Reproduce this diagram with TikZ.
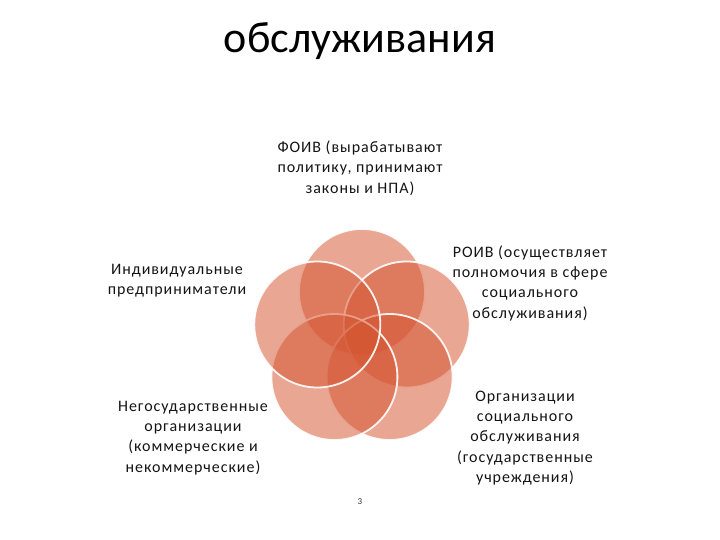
\documentclass[tikz,border=0pt]{standalone}
\usepackage{fontspec}
\setmainfont{Carlito}
\newfontfamily\lblfont[LetterSpace=6]{Carlito}
\definecolor{petalc}{RGB}{212,84,48}
\definecolor{txt}{RGB}{20,20,20}
\tikzset{
  petal/.style={circle, minimum size=126pt, inner sep=0pt, fill=petalc, fill opacity=0.52, draw=white, draw opacity=0.9, line width=1.8pt},
  lbl/.style={align=center, text=txt, inner sep=0pt, font=\lblfont\fontsize{16}{20.3}\selectfont},
}
\begin{document}
\begin{tikzpicture}[x=1pt,y=-1pt]
\useasboundingbox (0,0) rectangle (720,540);
\node[anchor=base, text=black, inner sep=0pt, font=\fontsize{44}{50}\selectfont] (title) at (360,53) {обслуживания};
% petals
\node[petal] (ctop) at (362,292) {};
\node[petal] (cright) at (406.7,324.5) {};
\node[petal] (cbr) at (389.6,377) {};
\node[petal] (cbl) at (334.4,377) {};
\node[petal] (cleft) at (317.3,324.5) {};
% labels
\node[lbl] (foiv) at (360,168) {ФОИВ (вырабатывают\\политику, принимают\\законы и НПА)};
\node[lbl] (ip) at (177,281) {Индивидуальные\\предприниматели};
\node[lbl] (roiv) at (530,283) {РОИВ (осуществляет\\полномочия в сфере\\социального\\обслуживания)};
\node[lbl] (ngo) at (193,438) {Негосударственные\\организации\\(коммерческие и\\некоммерческие)};
\node[lbl] (org) at (525,438) {Организации\\социального\\обслуживания\\(государственные\\учреждения)};
\node[text=black!80, inner sep=0pt, font=\fontsize{9}{10}\selectfont] (num) at (360,502) {3};
\end{tikzpicture}
\end{document}
